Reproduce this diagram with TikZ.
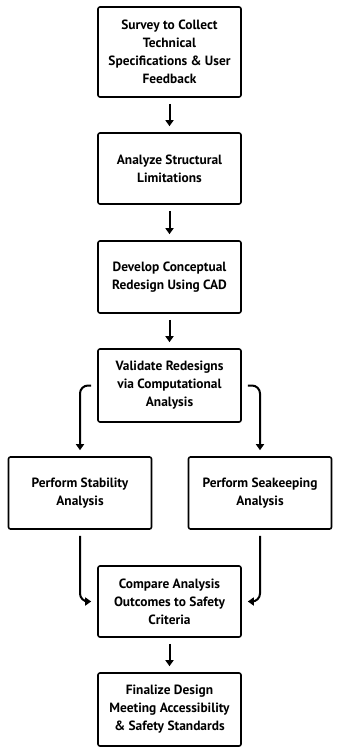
\documentclass[tikz,border=0pt]{standalone}
\usepackage{fontspec}
\setmainfont{PT Sans}
\usetikzlibrary{arrows.meta}
\tikzset{
  stepbox/.style={draw=black, line width=1.6pt, rounded corners=2pt, fill=white,
    minimum width=143pt, align=center, inner sep=0pt,
    font=\bfseries\fontsize{13.4pt}{18pt}\selectfont},
  flow/.style={line width=2pt, -{Triangle[width=8pt,length=6pt]}},
  curvedflow/.style={flow, rounded corners=8pt}
}
\begin{document}
\begin{tikzpicture}[x=1pt,y=-1pt]
\useasboundingbox (0,0) rectangle (337,751);
\node[stepbox, minimum height=90pt] (b1) at (169.5,52) {Survey to Collect\\Technical\\Specifications \& User\\Feedback};
\node[stepbox, minimum height=71pt] (b2) at (169.5,168.5) {Analyze Structural\\Limitations};
\node[stepbox, minimum height=72pt] (b3) at (169.5,277) {Develop Conceptual\\Redesign Using CAD};
\node[stepbox, minimum height=73pt] (b4) at (169.5,385.5) {Validate Redesigns\\via Computational\\Analysis};
\node[stepbox, minimum height=72pt] (b5) at (80,493) {Perform Stability\\Analysis};
\node[stepbox, minimum height=72pt] (b6) at (260,493) {Perform Seakeeping\\Analysis};
\node[stepbox, minimum height=71pt] (b7) at (169.5,601.5) {Compare Analysis\\Outcomes to Safety\\Criteria};
\node[stepbox, minimum height=73pt] (b8) at (169.5,709.5) {Finalize Design\\Meeting Accessibility\\\& Safety Standards};
\draw[flow] ([yshift=-6pt]b1.south) -- ([yshift=6pt]b2.north);
\draw[flow] ([yshift=-6pt]b2.south) -- ([yshift=6pt]b3.north);
\draw[flow] ([yshift=-6pt]b3.south) -- ([yshift=6pt]b4.north);
\draw[curvedflow] ([xshift=-6pt]b4.west) -| ([yshift=6pt]b5.north);
\draw[curvedflow] ([xshift=6pt]b4.east) -| ([yshift=6pt]b6.north);
\draw[curvedflow] ([yshift=-6pt]b5.south) |- ([xshift=-6pt]b7.west);
\draw[curvedflow] ([yshift=-6pt]b6.south) |- ([xshift=6pt]b7.east);
\draw[flow] ([yshift=-6pt]b7.south) -- ([yshift=6pt]b8.north);
\end{tikzpicture}
\end{document}
